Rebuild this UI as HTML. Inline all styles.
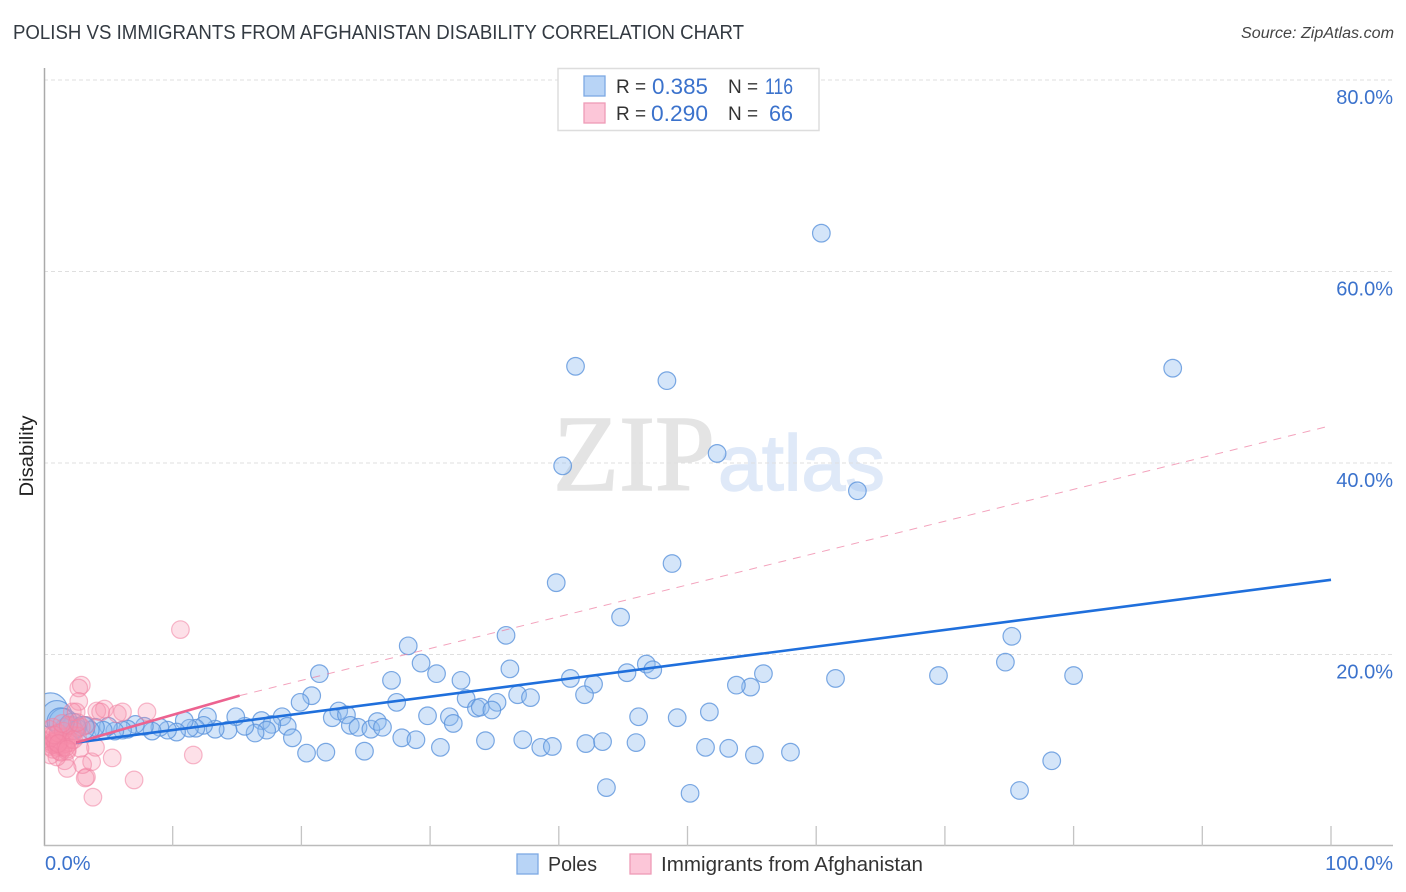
<!DOCTYPE html>
<html lang="en">
<head>
<meta charset="utf-8">
<title>Polish vs Immigrants from Afghanistan Disability Correlation Chart</title>
<style>
html,body{margin:0;padding:0;background:#fff;width:1406px;height:892px;overflow:hidden}
svg{display:block;font-family:"Liberation Sans",sans-serif}
</style>
</head>
<body>
<svg id="chart" width="1406" height="892" viewBox="0 0 1406 892" xmlns="http://www.w3.org/2000/svg">
<defs><clipPath id="plot-clip"><rect x="45" y="60" width="1350" height="786"/></clipPath></defs>
<text x="13" y="39" font-size="20" fill="#333a42" textLength="731" lengthAdjust="spacingAndGlyphs">POLISH VS IMMIGRANTS FROM AFGHANISTAN DISABILITY CORRELATION CHART</text>
<text x="1241" y="38" font-size="15.5" font-style="italic" fill="#444" textLength="153" lengthAdjust="spacingAndGlyphs">Source: ZipAtlas.com</text>
<text x="553" y="490" font-family="'Liberation Serif',serif" font-size="108" fill="#e4e4e4" stroke="#e4e4e4" stroke-width="1.5">ZIP</text>
<text x="718" y="490" font-size="79" fill="#dfe9f8" stroke="#dfe9f8" stroke-width="1.5">atlas</text>
<g id="grid"></g>
<g id="axes"></g>
<g id="poles-points" clip-path="url(#plot-clip)"></g>
<g id="afghan-points" clip-path="url(#plot-clip)"></g>
<g id="trends"></g>
<text transform="translate(33,456) rotate(-90)" font-size="19" fill="#222" text-anchor="middle" textLength="81" lengthAdjust="spacingAndGlyphs">Disability</text>
<g>
<rect x="558" y="68.5" width="261" height="62" fill="#fff" stroke="#ddd" stroke-width="1.5"/>
<rect x="584" y="76" width="21" height="20" fill="#b8d4f6" stroke="#7da9e3" stroke-width="1.3"/>
<rect x="584" y="103" width="21" height="20" fill="#fcc6d8" stroke="#ee9cb7" stroke-width="1.3"/>
<text x="616" y="93" font-size="19" fill="#333">R =</text>
<text x="652" y="94" font-size="22" fill="#3b72cc" textLength="56" lengthAdjust="spacingAndGlyphs">0.385</text>
<text x="728" y="93" font-size="19" fill="#333">N =</text>
<text x="765" y="94" font-size="22" fill="#3b72cc" textLength="28" lengthAdjust="spacingAndGlyphs">116</text>
<text x="616" y="120" font-size="19" fill="#333">R =</text>
<text x="651" y="121" font-size="22" fill="#3b72cc" textLength="57" lengthAdjust="spacingAndGlyphs">0.290</text>
<text x="728" y="120" font-size="19" fill="#333">N =</text>
<text x="769" y="121" font-size="22" fill="#3b72cc" textLength="24" lengthAdjust="spacingAndGlyphs">66</text>
</g>
<g>
<rect x="517" y="854" width="21" height="20" fill="#b8d4f6" stroke="#7da9e3" stroke-width="1.3"/>
<text x="548" y="871" font-size="20" fill="#333" textLength="49" lengthAdjust="spacingAndGlyphs">Poles</text>
<rect x="630" y="854" width="21" height="20" fill="#fcc6d8" stroke="#ee9cb7" stroke-width="1.3"/>
<text x="661" y="871" font-size="20" fill="#333" textLength="262" lengthAdjust="spacingAndGlyphs">Immigrants from Afghanistan</text>
</g>
</svg>
<script>
var yTickValues = [20, 40, 60, 80];
var yTickLabels = ["20.0%", "40.0%", "60.0%", "80.0%"];
var xTickValues = [10, 20, 30, 40, 50, 60, 70, 80, 90, 100];
var xEndValues = [0, 100];
var xEndLabels = ["0.0%", "100.0%"];

var polesX = [60.4,41.3,48.4,87.7,40.3,52.3,63.2,39.8,48.8,44.8,35.9,28.3,75.2,74.7,80.0,69.5,61.5,55.9,54.9,53.8,46.8,47.3,45.3,42.7,40.9,42.0,36.2,29.3,30.5,32.4,27.0,21.4,20.8,19.9,27.4,32.8,35.2,36.8,37.8,33.6,33.9,34.8,29.8,31.5,31.8,46.2,49.2,51.7,22.9,22.4,23.5,23.8,24.4,25.4,25.9,26.3,18.5,18.9,16.9,17.7,19.3,17.3,16.4,15.6,14.9,14.3,13.3,12.7,12.4,11.8,11.3,10.9,10.3,9.6,9.0,8.4,7.8,7.1,6.5,6.1,5.5,5.0,4.6,4.0,3.6,3.2,2.6,2.2,1.6,27.8,28.9,30.8,34.3,37.2,38.6,39.5,42.1,43.4,46.0,51.4,53.2,55.2,58.0,20.4,21.9,24.9,43.7,50.2,78.3,75.8];
var polesY = [64.0,50.1,48.6,49.9,39.7,41.0,37.1,27.5,29.5,23.9,22.0,20.9,21.9,19.2,17.8,17.8,17.5,18.0,16.6,16.8,19.0,18.4,18.1,16.9,17.5,15.8,18.5,19.1,18.0,17.3,17.3,18.0,15.7,15.0,15.0,15.4,15.0,15.8,15.5,14.4,14.5,14.2,13.6,13.5,12.8,13.5,13.4,14.0,14.1,13.4,13.7,12.6,12.4,12.2,13.0,12.4,13.5,12.5,13.1,12.7,11.3,12.1,11.8,12.5,13.5,12.1,12.2,13.5,12.6,12.3,12.3,13.1,11.9,12.1,12.4,12.0,12.5,12.7,12.2,12.1,12.0,12.5,12.1,12.4,12.1,12.6,12.3,12.6,12.4,11.3,11.1,10.3,11.0,11.1,10.3,10.4,10.7,10.9,10.8,10.3,10.2,9.5,9.8,9.7,9.8,9.9,6.1,5.5,8.9,5.8];
var polesLargeX = [0.5, 1.0, 1.5, 2.2, 3.0, 1.3];
var polesLargeY = [14.2, 13.6, 12.9, 12.5, 12.3, 13.0];
var polesLargeWeight = [3.8, 3.0, 2.6, 2.2, 1.8, 2.4];

var afghanX = [10.6,2.9,2.7,2.7,2.5,4.1,4.7,4.4,5.7,6.1,8.0,11.6,5.3,7.0,3.8,3.3,3.2,3.7,3.0,1.8,1.6,1.0,4.0,2.8,2.2,3.3,0.3,0.4,0.5,0.6,0.7,0.8,0.9,1.0,1.0,1.1,1.2,1.2,1.3,1.4,1.5,1.6,1.7,1.8,1.9,2.0,2.2,2.4,2.6,2.9,0.4,0.6,0.7,0.9,1.1,1.3,1.5,1.7,1.9,2.3,0.5,0.8,1.1,1.4,1.8,2.6];
var afghanY = [22.6,16.8,16.5,15.1,14.0,14.1,14.3,14.0,13.8,14.0,14.0,9.5,9.2,6.9,5.1,7.2,7.1,8.8,8.5,8.1,8.9,9.3,10.3,10.2,14.0,12.6,11.0,10.4,11.5,10.8,10.1,11.0,10.6,10.3,11.2,10.5,10.9,9.9,11.0,10.5,10.3,11.4,10.7,9.9,11.1,10.8,11.6,12.0,11.5,12.4,12.2,10.6,12.4,10.9,11.8,9.8,12.0,10.3,12.6,11.1,9.5,11.6,10.7,12.8,10.1,12.9];

var polesTrendX = [2.5, 100];
var polesTrendY = [10.8, 27.8];
var afghanSolidX = [2.5, 15.2];
var afghanSolidY = [10.8, 15.7];
var afghanDashX = [15.2, 99.7];
var afghanDashY = [15.7, 43.8];

var NS = 'http://www.w3.org/2000/svg';
function xScale(v){ return 44 + v * 12.87; }
function yScale(v){ return 846 - v * 9.575; }
function make(tag, parent, attrs){
  var el = document.createElementNS(NS, tag);
  for (var k in attrs) el.setAttribute(k, attrs[k]);
  document.getElementById(parent).appendChild(el);
  return el;
}
yTickValues.forEach(function(v, i){
  var g = make('line', 'grid', {x1:44, x2:1393, y1:yScale(v), y2:yScale(v), stroke:'#dfdfdf', 'stroke-width':1, 'stroke-dasharray':'4 3'});
  
  
  var t = make('text', 'axes', {x:1393, y:yScale(v)+24, 'font-size':20, fill:'#3b72cc', 'text-anchor':'end'});
  
  
  t.textContent = yTickLabels[i];
});
var yAxis = make('line', 'axes', {x1:44.5, x2:44.5, y1:68, y2:846, stroke:'#aaa', 'stroke-width':1.5});


var xAxis = make('line', 'axes', {x1:44, x2:1393, y1:845.5, y2:845.5, stroke:'#bbb', 'stroke-width':1.5});


xTickValues.forEach(function(v){
  var tick = make('line', 'axes', {x1:xScale(v), x2:xScale(v), y1:826, y2:846, stroke:'#c4c4c4', 'stroke-width':1.3});
  
  
});
xEndValues.forEach(function(v, i){
  var t = make('text', 'axes', {x:i === 0 ? xScale(v)+1 : 1393, y:870, 'font-size':20, fill:'#3b72cc', 'text-anchor':i === 0 ? 'start' : 'end'});
  
  
  t.textContent = xEndLabels[i];
});
polesX.forEach(function(v, i){
  var c = make('circle', 'poles-points', {cx:xScale(v), cy:yScale(polesY[i]), r:8.8, fill:'#8dbaf0', 'fill-opacity':0.38, stroke:'#5b93dc', 'stroke-opacity':0.8, 'stroke-width':1.2});
  
  
});
polesLargeX.forEach(function(v, i){
  var c = make('circle', 'poles-points', {cx:xScale(v), cy:yScale(polesLargeY[i]), r:8.8 * Math.sqrt(polesLargeWeight[i]), fill:'#8dbaf0', 'fill-opacity':0.38, stroke:'#5b93dc', 'stroke-opacity':0.8, 'stroke-width':1.2});
  
  
});
afghanX.forEach(function(v, i){
  var c = make('circle', 'afghan-points', {cx:xScale(v), cy:yScale(afghanY[i]), r:8.8, fill:'#f88fae', 'fill-opacity':0.28, stroke:'#f07fa0', 'stroke-opacity':0.55, 'stroke-width':1.2});
  
  
});
var l1 = make('line', 'trends', {x1:xScale(afghanDashX[0]), y1:yScale(afghanDashY[0]), x2:xScale(afghanDashX[1]), y2:yScale(afghanDashY[1]), stroke:'#ee7b9f', 'stroke-width':1, 'stroke-dasharray':'8 7', 'stroke-opacity':0.7});


var l2 = make('line', 'trends', {x1:xScale(polesTrendX[0]), y1:yScale(polesTrendY[0]), x2:xScale(polesTrendX[1]), y2:yScale(polesTrendY[1]), stroke:'#1f6fdc', 'stroke-width':2.6});


var l3 = make('line', 'trends', {x1:xScale(afghanSolidX[0]), y1:yScale(afghanSolidY[0]), x2:xScale(afghanSolidX[1]), y2:yScale(afghanSolidY[1]), stroke:'#ec6390', 'stroke-width':2.6});


</script>
</body>
</html>
